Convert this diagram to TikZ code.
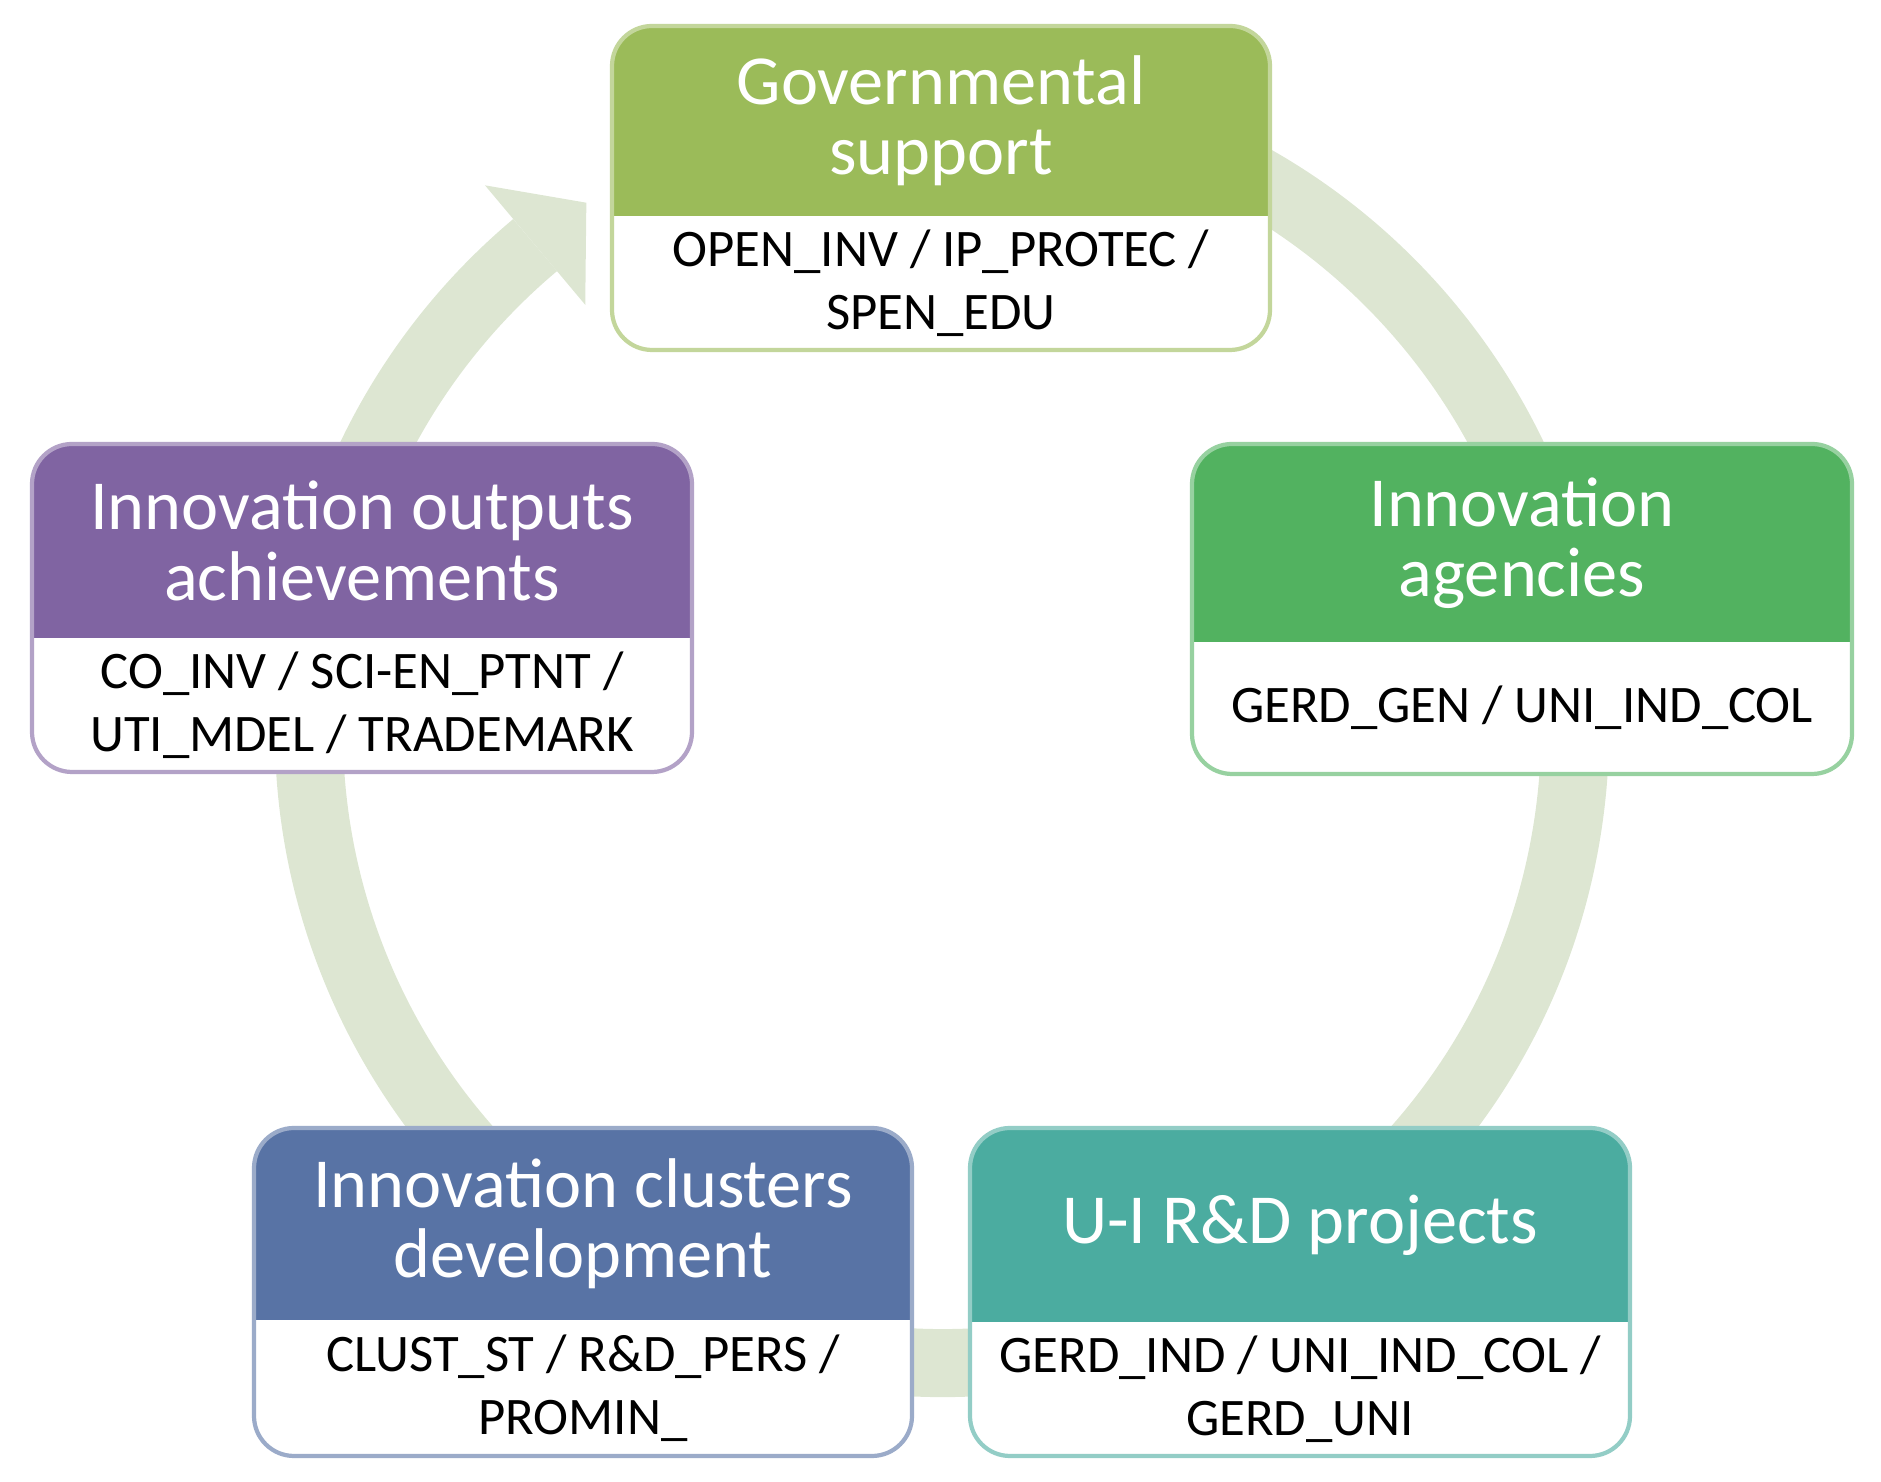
\documentclass[tikz,border=0pt]{standalone}
\usepackage{fontspec}
\setmainfont{Carlito}
\usetikzlibrary{calc}
\definecolor{ringc}{RGB}{221,230,210}
\definecolor{govc}{RGB}{155,187,89}
\definecolor{govb}{RGB}{146,208,80}
\definecolor{agc}{RGB}{82,178,96}
\definecolor{agb}{RGB}{70,150,80}
\definecolor{uic}{RGB}{75,172,160}
\definecolor{uib}{RGB}{70,190,170}
\definecolor{clc}{RGB}{88,115,165}
\definecolor{clb}{RGB}{80,110,170}
\definecolor{ouc}{RGB}{128,100,162}
\definecolor{oub}{RGB}{165,135,205}
\tikzset{
	head/.style={text=white, align=center, font=\fontsize{20}{20}\selectfont},
	body/.style={text=black, align=center, font=\fontsize{15}{18}\selectfont},
	ring/.style={ringc, line width=0.68cm},
}
% name, x1, ylow, x2, yhigh, ymid, colour, header, body
\newcommand{\stagebox}[9]{
	\begin{scope}
		\clip[rounded corners=0.4cm] (#2,#3) rectangle (#4,#5);
		\fill[white] (#2,#3) rectangle (#4,#5);
		\fill[#7] (#2,#6) rectangle (#4,#5);
	\end{scope}
	\draw[#7!60!white, line width=1.2pt, rounded corners=0.4cm] (#2,#3) rectangle (#4,#5);
	\node[head] (#1-head) at ($(#2,#6)!0.5!(#4,#5)$) {#8};
	\node[body] (#1-body) at ($(#2,#3)!0.5!(#4,#6)$) {#9};
}
\begin{document}
\begin{tikzpicture}[x=0.01cm, y=0.01cm]
	\useasboundingbox (0,0) rectangle (1881,1482);
	\coordinate (c) at (942,752);
	
	% cycle
	\draw[ring] ($(c)+(80:633)$) arc[start angle=80, end angle=-230, radius=633];
	\fill[ringc] ($(c)+(130:711)$) -- ($(c)+(124:636)$) -- ($(c)+(130:555)$) -- cycle;
	
	% stages
	\stagebox{gov}{612}{1132}{1270}{1456}{1266}{govc}{Governmental\\support}{OPEN\_INV / IP\_PROTEC /\\SPEN\_EDU}
	\stagebox{agency}{1192}{708}{1852}{1038}{840}{agc}{Innovation\\agencies}{GERD\_GEN / UNI\_IND\_COL}
	\stagebox{project}{970}{26}{1630}{354}{160}{uic}{U-I R\&D projects}{GERD\_IND / UNI\_IND\_COL /\\GERD\_UNI}
	\stagebox{cluster}{254}{26}{912}{354}{162}{clc}{Innovation clusters\\development}{CLUST\_ST / R\&D\_PERS /\\PROMIN\_}
	\stagebox{output}{32}{710}{692}{1038}{844}{ouc}{Innovation outputs\\achievements}{CO\_INV / SCI-EN\_PTNT /\\UTI\_MDEL / TRADEMARK}
\end{tikzpicture}
\end{document}
